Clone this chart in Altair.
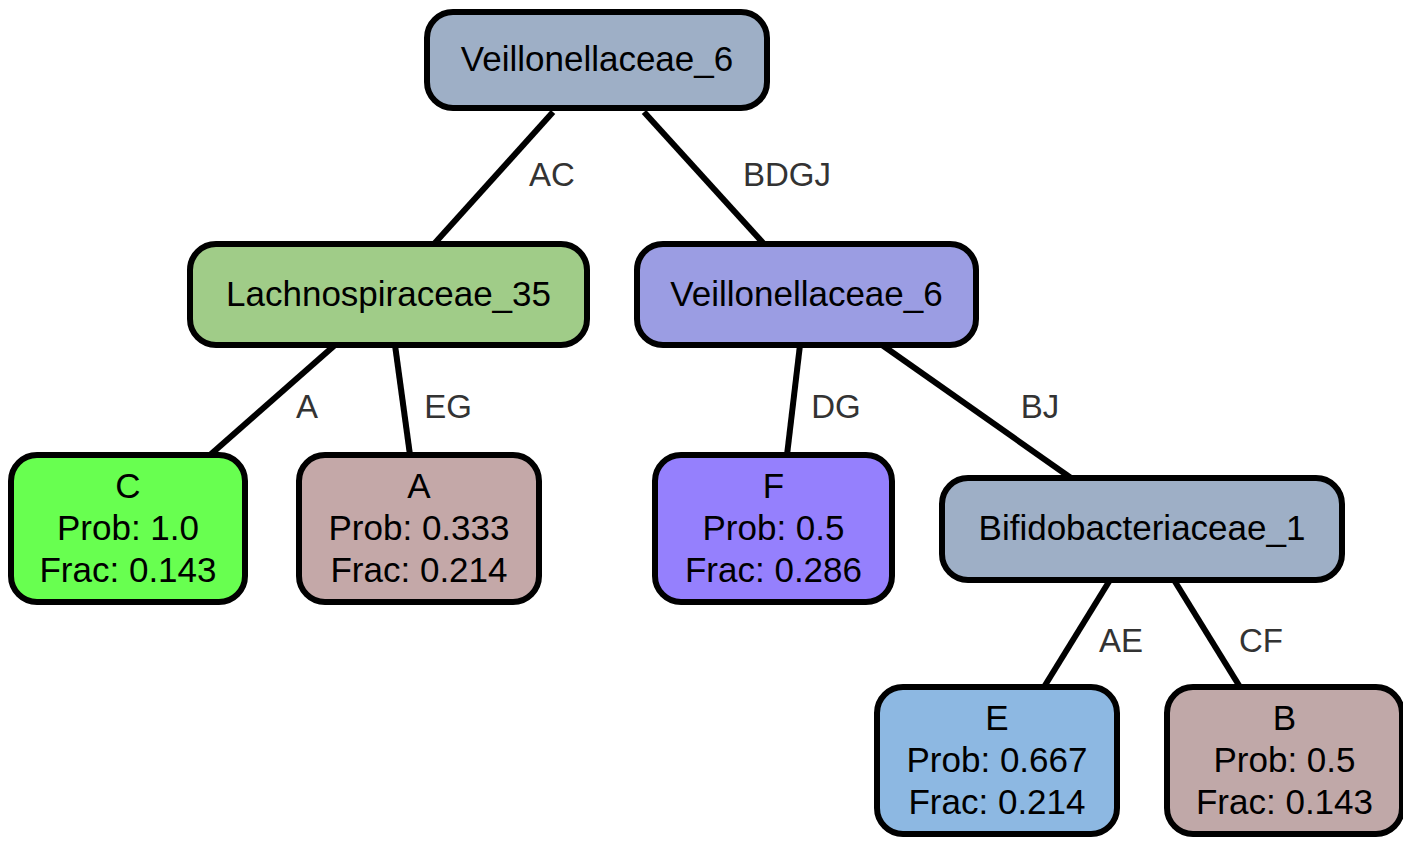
import altair as alt
import pandas as pd

# node boxes in picture coordinates
node_labels = ["Veillonellaceae_6", "Lachnospiraceae_35", "Veillonellaceae_6",
               "C\nProb: 1.0\nFrac: 0.143", "A\nProb: 0.333\nFrac: 0.214",
               "F\nProb: 0.5\nFrac: 0.286", "Bifidobacteriaceae_1",
               "E\nProb: 0.667\nFrac: 0.214", "B\nProb: 0.5\nFrac: 0.143"]
node_x1 = [427, 190, 637, 11, 299, 655, 942, 877, 1167]
node_x2 = [767, 587, 976, 245, 539, 892, 1342, 1117, 1402]
node_y1 = [12, 244, 244, 455, 455, 455, 478, 687, 687]
node_y2 = [108, 345, 345, 602, 602, 602, 580, 834, 834]
node_colors = ["#9eafc6", "#a0cc88", "#9b9de3", "#68ff50", "#c4a8a8",
               "#9580fd", "#9eafc6", "#8db8e2", "#c0a8a8"]

edge_x1 = [553, 644, 335, 395, 800, 882, 1110, 1174]
edge_y1 = [112, 112, 345, 345, 345, 345, 580, 580]
edge_x2 = [434, 764, 210, 410, 787, 1071, 1044, 1240]
edge_y2 = [244, 244, 455, 455, 455, 478, 687, 687]
edge_labels = ["AC", "BDGJ", "A", "EG", "DG", "BJ", "AE", "CF"]
edge_lx = [552, 787, 307, 448, 836, 1040, 1121, 1261]
edge_ly = [176, 176, 408, 408, 408, 408, 642, 642]

nodes = pd.DataFrame({"label": node_labels, "x1": node_x1, "x2": node_x2,
                      "y1": node_y1, "y2": node_y2, "color": node_colors})
nodes["cx"] = (nodes.x1 + nodes.x2) / 2
# first line position: multi-line labels start one line above centre
nodes["cy"] = (nodes.y1 + nodes.y2) / 2 - nodes.label.str.count("\n") * 21
edges = pd.DataFrame({"x1": edge_x1, "y1": edge_y1, "x2": edge_x2, "y2": edge_y2,
                      "label": edge_labels, "lx": edge_lx, "ly": edge_ly})

xs = alt.Scale(domain=[8, 1403])
ys = alt.Scale(domain=[838, 8])
noax = None

lines = alt.Chart(edges).mark_rule(strokeWidth=6, color="black").encode(
    x=alt.X("x1:Q", scale=xs, axis=noax), y=alt.Y("y1:Q", scale=ys, axis=noax),
    x2="x2:Q", y2="y2:Q")
elabels = alt.Chart(edges).mark_text(fontSize=33, font="Liberation Sans", color="#333333").encode(
    x=alt.X("lx:Q", scale=xs, axis=noax), y=alt.Y("ly:Q", scale=ys, axis=noax), text="label:N")
boxes = alt.Chart(nodes).mark_rect(cornerRadius=26, stroke="black", strokeWidth=6).encode(
    x=alt.X("x1:Q", scale=xs, axis=noax), x2="x2:Q",
    y=alt.Y("y1:Q", scale=ys, axis=noax), y2="y2:Q",
    color=alt.Color("color:N", scale=None))
ntext = alt.Chart(nodes).mark_text(fontSize=35, font="Liberation Sans", color="black",
                                   lineBreak="\n", lineHeight=42, baseline="middle").encode(
    x=alt.X("cx:Q", scale=xs, axis=noax), y=alt.Y("cy:Q", scale=ys, axis=noax), text="label:N")

chart = (lines + elabels + boxes + ntext).properties(
    width=1395, height=830, autosize=alt.AutoSizeParams(type="none"), padding=0
).configure_view(stroke=None)

chart.save("out.html", embed_options={"renderer": "svg", "actions": False})
